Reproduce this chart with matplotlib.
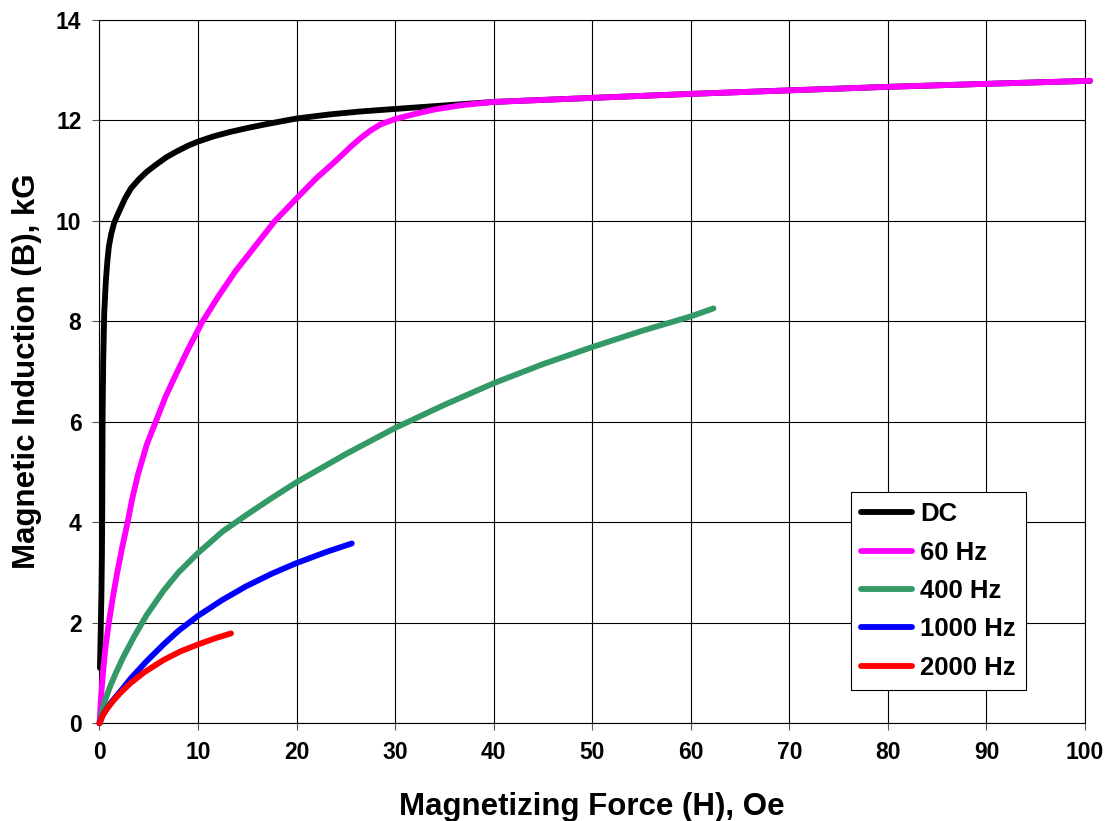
import matplotlib
matplotlib.use("Agg")
import matplotlib.pyplot as plt

plt.rcParams['font.family'] = ['Liberation Sans', 'DejaVu Sans']
plt.rcParams['font.weight'] = 'bold'

# B-H curves (H in Oe, B in kG)
dc_h = [0.05, 0.12, 0.2, 0.25, 0.28, 0.3, 0.32, 0.38, 0.48, 0.65, 0.8, 0.96,
        1.2, 1.5, 1.9, 2.6, 3.2, 4.0, 4.8, 5.8, 6.8, 7.8, 9, 10, 11.5, 13.2,
        15, 17, 20, 23.3, 26.5, 30, 35, 40, 50, 60, 70, 80, 90, 100.5]
dc_b = [1.1, 1.8, 2.6, 3.4, 4.2, 5.2, 6.2, 7.2, 8.16, 8.82, 9.2, 9.5,
        9.75, 9.97, 10.15, 10.45, 10.65, 10.83, 10.98, 11.13, 11.27, 11.38,
        11.5, 11.58, 11.68, 11.77, 11.85, 11.93, 12.04, 12.12, 12.18, 12.23,
        12.3, 12.37, 12.45, 12.53, 12.6, 12.67, 12.73, 12.79]

hz60_h = [0, 0.15, 0.35, 0.6, 0.95, 1.35, 1.8, 2.3, 2.85, 3.3, 3.9, 4.8, 5.8,
          6.7, 7.65, 9, 10.4, 12.0, 13.8, 15.8, 17.8, 20, 22, 24, 25.5, 26.5,
          27.5, 28.5, 30, 32, 34, 36.6, 38, 40, 50, 60, 70, 80, 90, 100.5]
hz60_b = [0, 0.5, 1.0, 1.5, 2.0, 2.5, 3.0, 3.5, 4.0, 4.45, 4.95, 5.55, 6.05,
          6.5, 6.9, 7.45, 7.98, 8.48, 9.0, 9.5, 10.0, 10.45, 10.85, 11.2,
          11.48, 11.65, 11.8, 11.92, 12.03, 12.13, 12.22, 12.3, 12.33, 12.37,
          12.45, 12.53, 12.6, 12.67, 12.73, 12.79]

hz400_h = [0, 0.2, 0.5, 1.07, 1.7, 2.42, 3.5, 4.8, 6.5, 8, 10, 12.5, 15, 17.6,
           20, 25, 30, 35, 40, 45, 50, 55, 60, 62.3]
hz400_b = [0, 0.2, 0.42, 0.73, 1.02, 1.32, 1.72, 2.16, 2.64, 3.0, 3.39, 3.82,
           4.16, 4.5, 4.8, 5.36, 5.88, 6.34, 6.77, 7.15, 7.49, 7.81, 8.1, 8.26]

hz1000_h = [0, 0.3, 0.7, 1.2, 2.1, 3.2, 4.8, 6.5, 8, 10, 12.5, 14.9, 17.5,
            20, 23, 25.6]
hz1000_b = [0, 0.15, 0.28, 0.42, 0.63, 0.9, 1.24, 1.57, 1.84, 2.14, 2.46,
            2.73, 2.98, 3.19, 3.41, 3.58]

hz2000_h = [0, 0.2, 0.4, 0.8, 1.45, 2.2, 3.1, 4.5, 6.5, 8.2, 10, 11.7, 13.35]
hz2000_b = [0, 0.1, 0.18, 0.3, 0.46, 0.62, 0.79, 1.01, 1.26, 1.43, 1.57,
            1.69, 1.79]

series = [
    ('DC', dc_h, dc_b, '#000000'),
    ('60 Hz', hz60_h, hz60_b, '#FF00FF'),
    ('400 Hz', hz400_h, hz400_b, '#339966'),
    ('1000 Hz', hz1000_h, hz1000_b, '#0000FF'),
    ('2000 Hz', hz2000_h, hz2000_b, '#FF0000'),
]

fig = plt.figure(figsize=(11.14, 8.21), dpi=100)
ax = fig.add_axes([0.0893, 0.119, 0.8847, 0.8566])

for name, h, b, col in series:
    ax.plot(h, b, color=col, linewidth=4.2, label=name,
            solid_capstyle='round', solid_joinstyle='round', clip_on=False, zorder=3)

ax.set_xlim(0, 100)
ax.set_ylim(0, 14)
ax.set_xticks(range(0, 101, 10))
ax.set_yticks(range(0, 15, 2))
ax.grid(True, color='black', linewidth=0.8)
ax.set_axisbelow(True)
for s in ax.spines.values():
    s.set_color('black')
    s.set_linewidth(0.8)
ax.tick_params(direction='out', length=5, width=0.8, color='#555555',
               labelsize=16.5, pad=8)
for lab in ax.get_xticklabels() + ax.get_yticklabels():
    lab.set_fontweight('bold')

ax.set_xlabel('Magnetizing Force (H), Oe', fontsize=22.5, fontweight='bold', labelpad=20)
ax.set_ylabel('Magnetic Induction (B), kG', fontsize=22.5, fontweight='bold', labelpad=10)

leg = ax.legend(loc='upper right', bbox_to_anchor=(0.94, 0.329), borderaxespad=0,
                fancybox=False, framealpha=1, edgecolor='black',
                prop={'size': 18.5, 'weight': 'bold'}, handlelength=2.0,
                handletextpad=0.3, labelspacing=0.56, borderpad=0.4)
leg.get_frame().set_linewidth(0.8)

fig.savefig('out.png', dpi=100)
